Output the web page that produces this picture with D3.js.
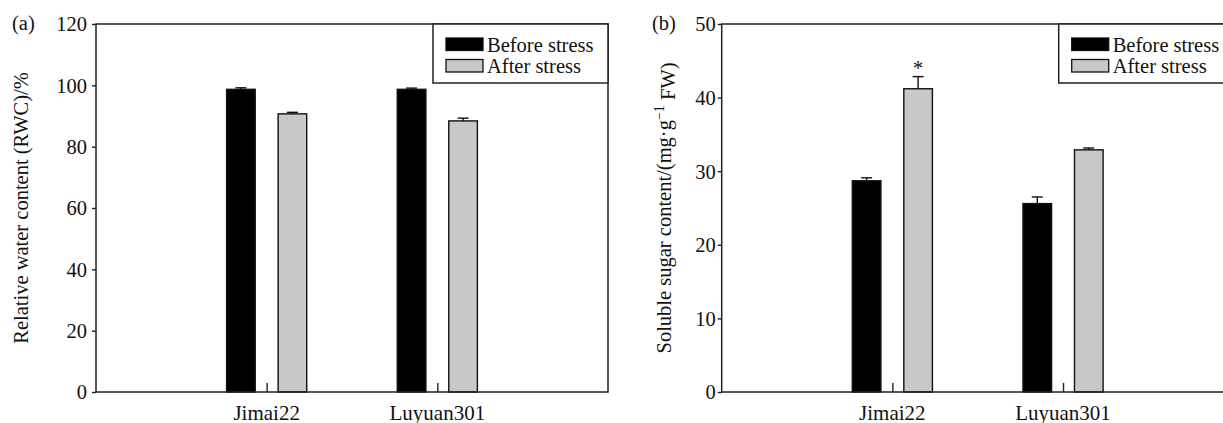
<!DOCTYPE html>
<html>
<head>
<meta charset="utf-8">
<script src="https://cdn.jsdelivr.net/npm/d3@7"></script>
<style>
  html, body { margin: 0; padding: 0; background: #fff; }
  svg { display: block; }
  text { font-family: "Liberation Serif", "Times New Roman", serif; fill: #111; }
</style>
</head>
<body>
<svg id="chart" width="1223" height="423"></svg>
<script>
// ---- data ----
const categories = ["Jimai22", "Luyuan301"];
const seriesNames = ["Before stress", "After stress"];
const seriesColors = ["#000000", "#c8c8c8"];

// panel (a) relative water content
const rwcBefore = [98.7, 98.7];
const rwcBeforeErr = [0.5, 0.4];
const rwcAfter = [90.7, 88.4];
const rwcAfterErr = [0.5, 0.9];
const rwcTicks = [0, 20, 40, 60, 80, 100, 120];

// panel (b) soluble sugar content
const sugarBefore = [28.7, 25.6];
const sugarBeforeErr = [0.4, 0.9];
const sugarAfter = [41.2, 32.9];
const sugarAfterErr = [1.65, 0.25];
const sugarTicks = [0, 10, 20, 30, 40, 50];
const sugarSignif = ["*", ""];

const svg = d3.select("#chart");

function drawPanel(opt) {
  const W = 512, H = 368;
  const g = svg.append("g").attr("transform", `translate(${opt.left},${opt.top})`);
  const x = d3.scaleLinear().domain([0, categories.length + 1]).range([0, W]);
  const sub = d3.scaleBand().domain(seriesNames).range([-40.75, 40.75]).paddingInner(0.4175);
  const y = d3.scaleLinear().domain([0, opt.max]).range([H, 0]);

  const series = [
    { name: seriesNames[0], vals: opt.before, errs: opt.beforeErr, color: seriesColors[0] },
    { name: seriesNames[1], vals: opt.after, errs: opt.afterErr, color: seriesColors[1] }
  ];
  series.forEach((s) => {
    const data = categories.map((c, i) => ({ c, i, v: s.vals[i], e: s.errs[i] }));
    const cx = d => x(d.i + 1) + sub(s.name) + sub.bandwidth() / 2;
    // error bars (upper only)
    const eg = g.append("g").attr("stroke", "#111").attr("stroke-width", 1.4);
    eg.selectAll("line.stem").data(data).join("line")
      .attr("x1", cx).attr("x2", cx)
      .attr("y1", d => y(d.v)).attr("y2", d => y(d.v + d.e));
    eg.selectAll("line.cap").data(data).join("line")
      .attr("x1", d => cx(d) - 5.5).attr("x2", d => cx(d) + 5.5)
      .attr("y1", d => y(d.v + d.e)).attr("y2", d => y(d.v + d.e));
    g.append("g").selectAll("rect").data(data).join("rect")
      .attr("x", d => x(d.i + 1) + sub(s.name) + 0.7)
      .attr("width", sub.bandwidth() - 1.4)
      .attr("y", d => y(d.v))
      .attr("height", d => y(0) - y(d.v))
      .attr("fill", s.color)
      .attr("stroke", "#111")
      .attr("stroke-width", 1.4);
  });

  // significance marks
  if (opt.signif) {
    g.append("g").selectAll("text")
      .data(categories.map((c, i) => ({ i, m: opt.signif[i], v: opt.after[i] + opt.afterErr[i] })))
      .join("text")
      .attr("x", d => x(d.i + 1) + sub(seriesNames[1]) + sub.bandwidth() / 2)
      .attr("y", d => y(d.v) - 2)
      .attr("text-anchor", "middle")
      .style("font-size", "21px")
      .text(d => d.m);
  }

  // frame
  g.append("rect").attr("x", 0).attr("y", 0).attr("width", W).attr("height", H)
    .attr("fill", "none").attr("stroke", "#222").attr("stroke-width", 1.5);

  // y axis
  const yAxis = g.append("g")
    .call(d3.axisLeft(y).tickValues(opt.ticks).tickSize(4).tickPadding(opt.tickPad).tickFormat(d3.format("d")));
  yAxis.select(".domain").remove();
  yAxis.selectAll(".tick line").attr("stroke", "#222").attr("stroke-width", 1.4);
  yAxis.selectAll(".tick text").style("font-size", "20.5px").style("font-family", "Liberation Serif, serif")
    .attr("fill", "#111").attr("dy", "0.34em");

  // x axis: inward ticks at category centres
  const xAxis = g.append("g").attr("transform", `translate(0,${H})`)
    .call(d3.axisBottom(x).tickValues(categories.map((c, i) => i + 1)).tickSize(-9).tickPadding(0).tickFormat(() => ""));
  xAxis.select(".domain").remove();
  xAxis.selectAll(".tick line").attr("stroke", "#222").attr("stroke-width", 1.4);
  g.append("g").selectAll("text").data(categories).join("text")
    .attr("x", (d, i) => x(i + 1))
    .attr("y", H + 27.5)
    .attr("text-anchor", "middle")
    .style("font-size", "21px")
    .text(d => d);

  // y label
  const yl = g.append("text")
    .attr("transform", `translate(${opt.ylabX},${H / 2}) rotate(-90)`)
    .attr("text-anchor", "middle")
    .style("font-size", "20.5px");
  opt.ylabel(yl);

  // panel tag
  svg.append("text").attr("x", opt.tagX).attr("y", 30).style("font-size", "20.5px").text(opt.tag);

  // legend
  const lg = g.append("g").attr("transform", `translate(${W - 175},0)`);
  lg.append("rect").attr("width", 175).attr("height", 59).attr("fill", "#fff")
    .attr("stroke", "#222").attr("stroke-width", 1.5);
  seriesNames.forEach((n, i) => {
    lg.append("rect").attr("x", 13).attr("y", 14 + i * 21.5).attr("width", 37).attr("height", 12.5)
      .attr("fill", seriesColors[i]).attr("stroke", "#111").attr("stroke-width", 1.3);
    lg.append("text").attr("x", 54).attr("y", 27.5 + i * 21.5).style("font-size", "20.5px").text(n);
  });
}

drawPanel({
  left: 96, top: 24, max: 120, ticks: rwcTicks, tickPad: 5,
  before: rwcBefore, beforeErr: rwcBeforeErr, after: rwcAfter, afterErr: rwcAfterErr,
  ylabX: -68, tag: "(a)", tagX: 12,
  ylabel: t => t.text("Relative water content (RWC)/%")
});

drawPanel({
  left: 721.7, top: 24, max: 50, ticks: sugarTicks, tickPad: 2,
  before: sugarBefore, beforeErr: sugarBeforeErr, after: sugarAfter, afterErr: sugarAfterErr,
  signif: sugarSignif,
  ylabX: -50.5, tag: "(b)", tagX: 652,
  ylabel: t => {
    t.append("tspan").text("Soluble sugar content/(mg·g");
    t.append("tspan").attr("dy", "-0.55em").style("font-size", "14px").text("−1");
    t.append("tspan").attr("dy", "0.55em").text(" FW)");
  }
});
</script>
</body>
</html>
